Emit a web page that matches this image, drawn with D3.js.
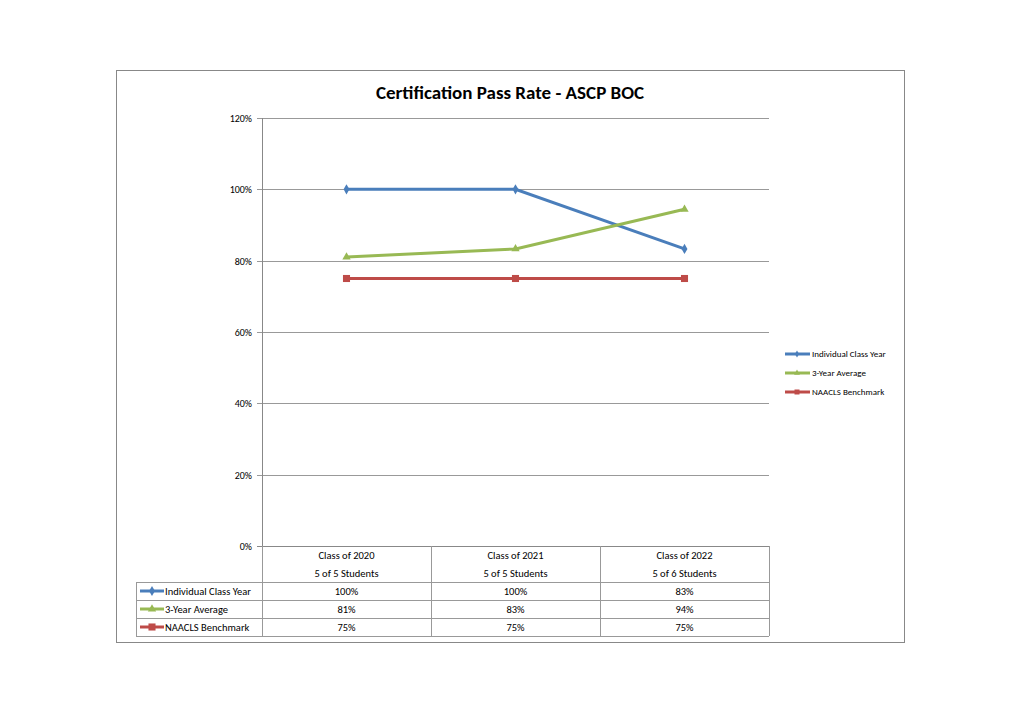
<!DOCTYPE html>
<html><head><meta charset="utf-8">
<script src="https://cdn.jsdelivr.net/npm/d3@7"></script>
<style>body{margin:0;background:#fff}text{font-family:"Carlito","Liberation Sans Narrow","Liberation Sans",sans-serif}</style>
</head><body><svg id="c" width="1024" height="724"></svg>
<script>
const classes = ['Class of 2020', 'Class of 2021', 'Class of 2022']
const students = ['5 of 5 Students', '5 of 5 Students', '5 of 6 Students']
const individual = [100, 100, 83.3]
const threeYear = [81, 83.3, 94.4]
const benchmark = [75, 75, 75]
const tableIndividual = ['100%', '100%', '83%']
const tableThreeYear = ['81%', '83%', '94%']
const tableBenchmark = ['75%', '75%', '75%']
const yTicks = [0, 20, 40, 60, 80, 100, 120]

const series = [
  {name: 'Individual Class Year', values: individual, labels: tableIndividual, color: '#4a7ebb', shape: d3.symbolDiamond, size: 30},
  {name: '3-Year Average', values: threeYear, labels: tableThreeYear, color: '#98b954', shape: d3.symbolTriangle, size: 30},
  {name: 'NAACLS Benchmark', values: benchmark, labels: tableBenchmark, color: '#be4b48', shape: d3.symbolSquare, size: 50}
]

const svg = d3.select('#c')
const plotL = 262, plotR = 769, plotT = 118, plotB = 546

svg.append('rect').attr('x', 116.5).attr('y', 70.5).attr('width', 788).attr('height', 572)
  .attr('fill', 'none').attr('stroke', '#888')

svg.append('text').attr('x', 510).attr('y', 99).attr('text-anchor', 'middle')
  .attr('font-size', 19).attr('font-weight', 'bold').text('Certification Pass Rate - ASCP BOC')

const x = d3.scaleBand().domain(classes).range([plotL, plotR])
const y = d3.scaleLinear().domain([0, 120]).range([plotB, plotT])

// gridlines + y labels
svg.selectAll('.grid').data(yTicks).join('line')
  .attr('x1', plotL - 5).attr('x2', plotR)
  .attr('y1', d => Math.round(y(d)) + .5).attr('y2', d => Math.round(y(d)) + .5)
  .attr('stroke', d => d == 0 ? '#888' : '#999')
svg.selectAll('.ylab').data(yTicks).join('text')
  .attr('x', plotL - 10).attr('y', d => y(d) + 4).attr('text-anchor', 'end')
  .attr('font-size', 10).text(d => d + '%')
svg.append('line').attr('x1', plotL + .5).attr('x2', plotL + .5).attr('y1', plotT).attr('y2', plotB)
  .attr('stroke', '#888')

const line = d3.line().x((d, i) => x(classes[i]) + x.bandwidth() / 2).y(d => y(d))

series.forEach(s => {
  svg.append('path').datum(s.values).attr('d', line)
    .attr('fill', 'none').attr('stroke', s.color).attr('stroke-width', 3)
  svg.selectAll(null).data(s.values).join('path')
    .attr('transform', (d, i) => `translate(${x(classes[i]) + x.bandwidth() / 2},${y(d)})`)
    .attr('d', d3.symbol().type(s.shape).size(s.size)).attr('fill', s.color)
})

// data table
const rowH = 18, headH = 36, labelLeft = 136
const tableBottom = plotB + headH + rowH * 3
const g = svg.append('g').attr('stroke', '#999').attr('fill', 'none')
classes.forEach(c => {
  g.append('line').attr('x1', x(c) + .5).attr('x2', x(c) + .5).attr('y1', plotB).attr('y2', tableBottom)
})
g.append('line').attr('x1', plotR + .5).attr('x2', plotR + .5).attr('y1', plotB).attr('y2', tableBottom)
g.append('line').attr('x1', labelLeft + .5).attr('x2', labelLeft + .5).attr('y1', plotB + headH).attr('y2', tableBottom)
for (let r = 0; r <= 3; r++) {
  const yy = plotB + headH + r * rowH + .5
  g.append('line').attr('x1', labelLeft).attr('x2', plotR).attr('y1', yy).attr('y2', yy)
}
classes.forEach((c, i) => {
  const cx = x(c) + x.bandwidth() / 2
  svg.append('text').attr('x', cx).attr('y', plotB + 13).attr('text-anchor', 'middle').attr('font-size', 10.5).text(c)
  svg.append('text').attr('x', cx).attr('y', plotB + 31).attr('text-anchor', 'middle').attr('font-size', 10.5).text(students[i])
})
series.forEach((s, r) => {
  const cy = plotB + headH + r * rowH + rowH / 2
  svg.append('line').attr('x1', 140).attr('x2', 164).attr('y1', cy).attr('y2', cy).attr('stroke', s.color).attr('stroke-width', 3)
  svg.append('path').attr('transform', `translate(152,${cy})`).attr('d', d3.symbol().type(s.shape).size(s.size)).attr('fill', s.color)
  svg.append('text').attr('x', 165).attr('y', cy + 4).attr('font-size', 10.5).text(s.name)
  s.labels.forEach((l, i) => {
    svg.append('text').attr('x', x(classes[i]) + x.bandwidth() / 2).attr('y', cy + 4)
      .attr('text-anchor', 'middle').attr('font-size', 10.5).text(l)
  })
})

// legend
series.forEach((s, r) => {
  const ly = 354 + r * 19
  svg.append('line').attr('x1', 785).attr('x2', 810).attr('y1', ly).attr('y2', ly).attr('stroke', s.color).attr('stroke-width', 3)
  svg.append('path').attr('transform', `translate(797,${ly})`).attr('d', d3.symbol().type(s.shape).size(s.size * .5)).attr('fill', s.color)
  svg.append('text').attr('x', 812).attr('y', ly + 3).attr('font-size', 9).text(s.name)
})
</script></body></html>
